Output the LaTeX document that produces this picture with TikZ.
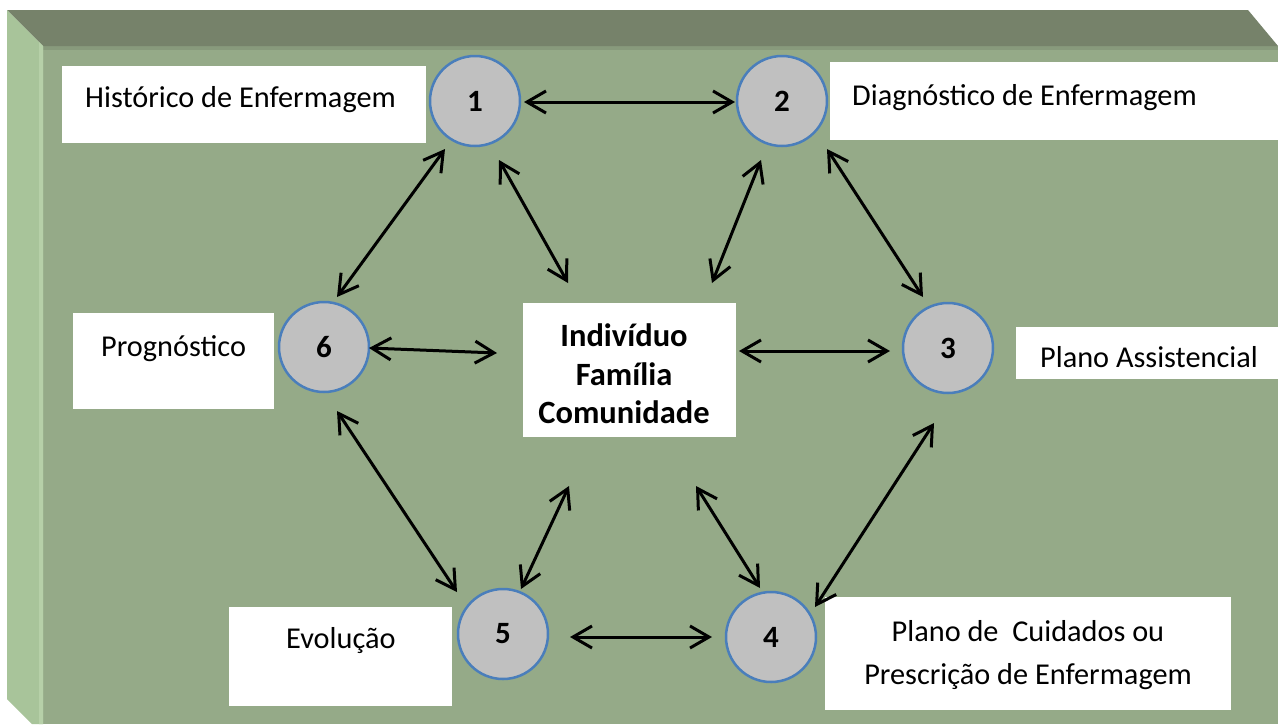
\documentclass[tikz,border=0pt]{standalone}
\usepackage{fontspec}
\setmainfont{Carlito}
\usetikzlibrary{arrows.meta}
\definecolor{face}{HTML}{95AA88}
\definecolor{facetop}{HTML}{889A7C}
\definecolor{topbev}{HTML}{76826A}
\definecolor{leftbev}{HTML}{A8C49A}
\definecolor{leftedge}{HTML}{B6D0A8}
\definecolor{circfill}{HTML}{C0C0C0}
\definecolor{circline}{HTML}{4A7EBB}
\begin{document}
\begin{tikzpicture}[x=1pt,y=-1pt,
  lbox/.style={fill=white, inner sep=0pt, anchor=north west},
  lbl/.style={font=\fontsize{30.3}{36}\selectfont, inner sep=0pt},
  circ/.style={circle, fill=circfill, draw=circline, line width=2.5pt, minimum size=90pt, inner sep=0pt, font=\fontsize{31}{33}\selectfont\bfseries},
  dbl/.style={line width=3pt, {Straight Barb[length=19pt,width=22pt]}-{Straight Barb[length=19pt,width=22pt]}}]
\useasboundingbox (0,0) rectangle (1278,724);
\fill[white] (0,0) rectangle (1278,724);
% 3D panel
\fill[face] (43,46) rectangle (1278,724);
\fill[facetop] (43,46) rectangle (1278,50);
\fill[topbev] (7,10) -- (1248,10) -- (1278,46) -- (43,46) -- cycle;
\fill[leftbev] (7,10) -- (43,46) -- (43,724) -- (32,724) -- (7,699) -- cycle;
\fill[leftedge] (39,42) -- (43,46) -- (43,724) -- (39,724) -- cycle;
% label boxes
\node[lbox, minimum width=364pt, minimum height=77pt] (b1) at (62,66) {};
\node[lbox, minimum width=448pt, minimum height=78pt] (b2) at (830,62) {};
\node[lbox, minimum width=262pt, minimum height=52pt] (b3) at (1016,327) {};
\node[lbox, minimum width=406pt, minimum height=113pt] (b4) at (825,597) {};
\node[lbox, minimum width=223pt, minimum height=99pt] (b5) at (229,607) {};
\node[lbox, minimum width=201pt, minimum height=96pt] (b6) at (73,313) {};
% label texts
\node[lbl, anchor=base west] (t1) at (85,107.5) {Histórico de Enfermagem};
\node[lbl, anchor=base west] (t2) at (852,105.5) {Diagnóstico de Enfermagem};
\node[lbl, anchor=base west] (t3) at (1040,367) {Plano Assistencial};
\node[lbl, anchor=base] (t4a) at (1028,641) {Plano de~ Cuidados ou};
\node[lbl, anchor=base] (t4b) at (1028,684) {Prescrição de Enfermagem};
\node[lbl, anchor=base west] (t5) at (286,648) {Evolução};
\node[lbl, anchor=base west] (t6) at (101,356) {Prognóstico};
% centre
\node[fill=white, minimum width=213pt, minimum height=134pt, inner sep=0pt] (ctr) at (629.5,370) {};
\node[font=\fontsize{32.5}{38.5}\selectfont\bfseries, align=center, inner sep=0pt] (ctrtxt) at (624,374) {Indivíduo\\Família\\Comunidade};
% circles
\node[circ] (c1) at (475,101) {1};
\node[circ] (c2) at (782,101) {2};
\node[circ] (c3) at (948,348) {3};
\node[circ] (c4) at (771,637) {4};
\node[circ] (c5) at (503,634) {5};
\node[circ] (c6) at (324,347) {6};
% arrow end points
\coordinate (a12) at (524,102); \coordinate (a21) at (735,102);
\coordinate (a16) at (445,149); \coordinate (a61) at (337,297);
\coordinate (a1c) at (499,160); \coordinate (ac1) at (568,283);
\coordinate (a2c) at (761,160); \coordinate (ac2) at (712,283);
\coordinate (a23) at (827,149); \coordinate (a32) at (923,297);
\coordinate (a6c) at (369,348); \coordinate (ac6) at (497,353);
\coordinate (ac3) at (739,351); \coordinate (a3c) at (890,351);
\coordinate (a65) at (337,411); \coordinate (a56) at (457,592);
\coordinate (ac5) at (569,486); \coordinate (a5c) at (521,589);
\coordinate (ac4) at (696,486); \coordinate (a4c) at (760,588);
\coordinate (a34) at (934,423); \coordinate (a43) at (815,607);
\coordinate (a54) at (570,637); \coordinate (a45) at (712,637);
\draw[dbl] (a12) -- (a21);
\draw[dbl] (a16) -- (a61);
\draw[dbl] (a1c) -- (ac1);
\draw[dbl] (a2c) -- (ac2);
\draw[dbl] (a23) -- (a32);
\draw[dbl] (a6c) -- (ac6);
\draw[dbl] (ac3) -- (a3c);
\draw[dbl] (a65) -- (a56);
\draw[dbl] (ac5) -- (a5c);
\draw[dbl] (ac4) -- (a4c);
\draw[dbl] (a34) -- (a43);
\draw[dbl] (a54) -- (a45);
\end{tikzpicture}
\end{document}
